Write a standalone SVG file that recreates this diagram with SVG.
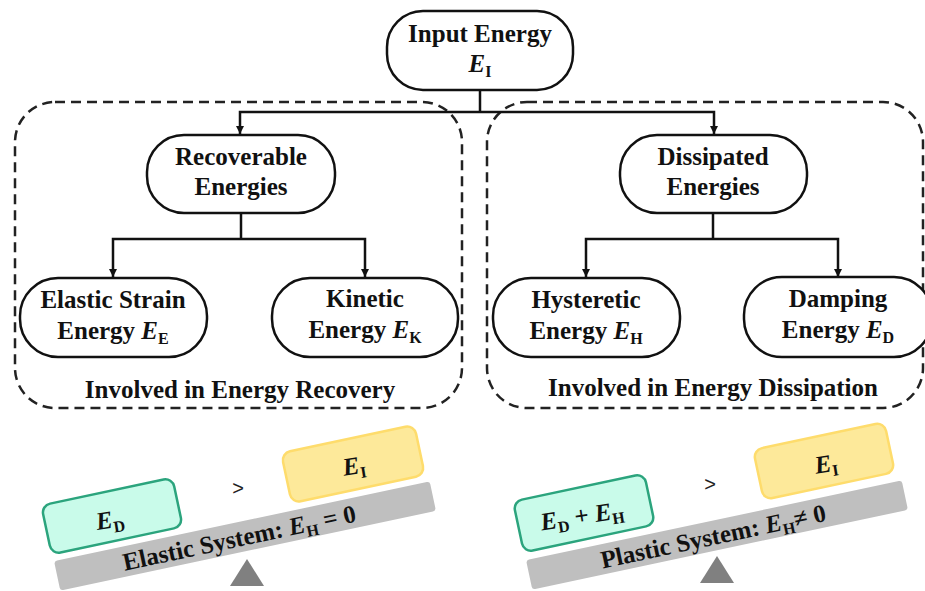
<svg xmlns="http://www.w3.org/2000/svg" width="925" height="591" viewBox="0 0 925 591">
  <defs>
    <marker id="arrow" markerUnits="userSpaceOnUse" markerWidth="9" markerHeight="9" refX="8" refY="4" orient="auto">
      <path d="M0,0 L8,4 L0,8 z" fill="#111"/>
    </marker>
    <style>
      .node { fill: #fff; stroke: #111; stroke-width: 2.5; }
      .group { fill: none; stroke: #222; stroke-width: 2.5; stroke-dasharray: 10 6; }
      .link { fill: none; stroke: #111; stroke-width: 2.5; }
      .lbl { font-family: "Liberation Serif", "Times New Roman", serif; font-weight: bold; font-size: 25px; fill: #111; text-anchor: middle; }
      .beam { fill: #bfbfbf; }
      .pivot { fill: #808080; }
      .teal { fill: #c9fbea; stroke: #2ba47d; stroke-width: 2.5; }
      .gold { fill: #fde99a; stroke: #fedc6c; stroke-width: 2.5; }
      .gt { font-family: "Liberation Sans", Arial, sans-serif; font-size: 20px; fill: #222; text-anchor: middle; }
    </style>
  </defs>

  <!-- dashed groupings -->
  <g id="group-recovery">
    <rect class="group" x="15" y="102" width="447" height="306" rx="40"/>
    <text class="lbl" x="240" y="398">Involved in Energy Recovery</text>
  </g>
  <g id="group-dissipation">
    <rect class="group" x="487" y="102" width="436" height="306" rx="40"/>
    <text class="lbl" x="713" y="396">Involved in Energy Dissipation</text>
  </g>

  <!-- connectors -->
  <g id="connectors">
    <path class="link" d="M480,90 V112"/>
    <path class="link" d="M480,112 H240 V134" marker-end="url(#arrow)"/>
    <path class="link" d="M480,112 H714 V134" marker-end="url(#arrow)"/>
    <path class="link" d="M241,213 V239"/>
    <path class="link" d="M241,239 H113 V277" marker-end="url(#arrow)"/>
    <path class="link" d="M241,239 H365 V277" marker-end="url(#arrow)"/>
    <path class="link" d="M713,213 V239"/>
    <path class="link" d="M713,239 H586 V277" marker-end="url(#arrow)"/>
    <path class="link" d="M713,239 H838 V277" marker-end="url(#arrow)"/>
  </g>

  <!-- nodes -->
  <g id="input-energy">
    <rect class="node" x="387" y="11" width="186" height="79" rx="36"/>
    <text class="lbl" x="480" y="42">Input Energy</text>
    <text class="lbl" x="480" y="72"><tspan font-style="italic">E</tspan><tspan font-size="16" dy="5">I</tspan></text>
  </g>
  <g id="recoverable">
    <rect class="node" x="147" y="135" width="188" height="78" rx="37"/>
    <text class="lbl" x="241" y="165">Recoverable</text>
    <text class="lbl" x="241" y="195">Energies</text>
  </g>
  <g id="dissipated">
    <rect class="node" x="620" y="135" width="187" height="78" rx="37"/>
    <text class="lbl" x="713" y="165">Dissipated</text>
    <text class="lbl" x="713" y="195">Energies</text>
  </g>
  <g id="elastic-strain">
    <rect class="node" x="20" y="278" width="187" height="79" rx="38"/>
    <text class="lbl" x="113" y="308">Elastic Strain</text>
    <text class="lbl" x="113" y="339">Energy <tspan font-style="italic">E</tspan><tspan font-size="16" dy="5">E</tspan></text>
  </g>
  <g id="kinetic">
    <rect class="node" x="272" y="278" width="186" height="79" rx="38"/>
    <text class="lbl" x="365" y="307">Kinetic</text>
    <text class="lbl" x="365" y="338">Energy <tspan font-style="italic">E</tspan><tspan font-size="16" dy="5">K</tspan></text>
  </g>
  <g id="hysteretic">
    <rect class="node" x="493" y="278" width="187" height="79" rx="38"/>
    <text class="lbl" x="586" y="308">Hysteretic</text>
    <text class="lbl" x="586" y="339">Energy <tspan font-style="italic">E</tspan><tspan font-size="16" dy="5">H</tspan></text>
  </g>
  <g id="damping">
    <rect class="node" x="744" y="277" width="188" height="80" rx="38"/>
    <text class="lbl" x="838" y="307">Damping</text>
    <text class="lbl" x="838" y="338">Energy <tspan font-style="italic">E</tspan><tspan font-size="16" dy="5">D</tspan></text>
  </g>

  <!-- elastic system balance -->
  <g id="elastic-balance">
    <polygon class="pivot" points="247,559 230,586 264,586"/>
    <g transform="translate(245,536) rotate(-12)">
      <rect class="beam" x="-192" y="-15" width="384" height="30" rx="3"/>
      <text class="lbl" x="-6" y="9">Elastic System: <tspan font-style="italic">E</tspan><tspan font-size="16" dy="5">H</tspan><tspan dy="-5"> = 0</tspan></text>
    </g>
    <g transform="translate(112,516) rotate(-12)">
      <rect class="teal" x="-67" y="-25" width="134" height="50" rx="9"/>
    </g>
    <text class="lbl" x="110" y="528" transform="rotate(-9 110 520)"><tspan font-style="italic">E</tspan><tspan font-size="16" dy="5">D</tspan></text>
    <g transform="translate(353,464) rotate(-12)">
      <rect class="gold" x="-68" y="-25.5" width="136" height="51" rx="9"/>
    </g>
    <text class="lbl" x="354" y="474" transform="rotate(-9 354 466)"><tspan font-style="italic">E</tspan><tspan font-size="16" dy="5">I</tspan></text>
    <text class="gt" x="238" y="495">&gt;</text>
  </g>

  <!-- plastic system balance -->
  <g id="plastic-balance">
    <polygon class="pivot" points="717,556 700,583 734,583"/>
    <g transform="translate(717,535) rotate(-12)">
      <rect class="beam" x="-192" y="-15" width="384" height="30" rx="3"/>
      <text class="lbl" x="-4" y="9">Plastic System: <tspan font-style="italic">E</tspan><tspan font-size="16" dy="5">H</tspan><tspan dy="-5">≠ 0</tspan></text>
    </g>
    <g transform="translate(584,513) rotate(-12)">
      <rect class="teal" x="-67" y="-26" width="134" height="52" rx="9"/>
    </g>
    <text class="lbl" x="582" y="524" transform="rotate(-9 582 516)"><tspan font-style="italic">E</tspan><tspan font-size="16" dy="5">D</tspan><tspan dy="-5"> + </tspan><tspan font-style="italic">E</tspan><tspan font-size="16" dy="5">H</tspan></text>
    <g transform="translate(824,461) rotate(-12)">
      <rect class="gold" x="-67" y="-25.5" width="134" height="51" rx="9"/>
    </g>
    <text class="lbl" x="826" y="472" transform="rotate(-9 826 464)"><tspan font-style="italic">E</tspan><tspan font-size="16" dy="5">I</tspan></text>
    <text class="gt" x="710" y="491">&gt;</text>
  </g>
</svg>
